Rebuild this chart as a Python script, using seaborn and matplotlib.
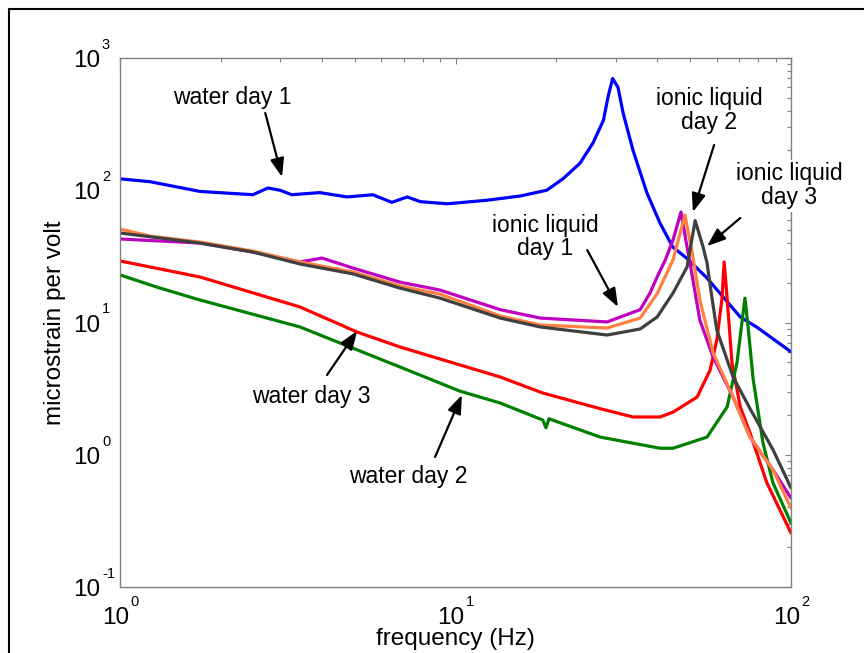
import matplotlib
matplotlib.use("Agg")
import numpy as np
import pandas as pd
import matplotlib.pyplot as plt
import seaborn as sns
from matplotlib.ticker import LogLocator, NullFormatter
from matplotlib.lines import Line2D

# values: frequency (Hz) and microstrain per volt
water1_f = [1.00, 1.23, 1.73, 2.49, 2.76, 3.00, 3.25, 3.94, 4.75, 5.67, 6.46, 7.18,
            7.85, 9.45, 12.4, 15.6, 18.7, 20.9, 23.5, 25.7, 27.6, 28.5, 29.4, 30.5,
            31.6, 33.8, 37.2, 40.7, 44.4, 48.8, 55.9, 62.9, 70.6, 79.2, 100]
water1_v = [122, 116, 98, 92.5, 104, 100, 92.5, 96, 89, 92.5, 81, 89,
            82, 79, 84, 90.5, 100, 122, 160, 228, 338, 510, 700, 600,
            383, 201, 95.5, 56.4, 37.3, 30.7, 22.0, 15.5, 11.0, 9.2, 6.0]

water3_f = [1.00, 1.73, 3.44, 5.09, 6.83, 13.6, 18.2, 27.0, 33.8, 40.7, 44.5, 52.5,
            57.4, 60.1, 62.3, 63.2, 64.5, 66.7, 70.6, 75.5, 84.8, 100]
water3_v = [29.2, 22.1, 13.1, 8.47, 6.53, 3.87, 2.93, 2.23, 1.93, 1.93, 2.10, 2.73,
            4.37, 7.38, 15.3, 28.7, 15.3, 4.94, 2.30, 1.46, 0.611, 0.256]

water2_f = [1.00, 1.29, 1.73, 3.44, 6.83, 10.3, 13.6, 18.2, 18.6, 19.0, 27.0, 40.7,
            44.5, 56.2, 64.5, 69.0, 71.4, 72.9, 74.5, 77.1, 82.5, 88.4, 100]
water2_v = [22.9, 18.5, 14.8, 9.25, 4.61, 3.03, 2.46, 1.83, 1.60, 1.87, 1.36, 1.12,
            1.12, 1.36, 2.30, 4.94, 10.0, 15.3, 9.25, 3.75, 1.23, 0.611, 0.305]

ionic1_f = [1.00, 1.73, 2.49, 3.44, 4.00, 4.95, 6.83, 8.98, 13.6, 17.9, 28.3, 35.5,
            38.0, 39.9, 42.2, 44.5, 47.0, 49.0, 50.0, 53.5, 58.6, 67.2, 75.5, 88.4, 100]
ionic1_v = [42.8, 39.9, 34.1, 28.7, 30.7, 25.8, 20.2, 17.6, 12.5, 10.8, 10.1, 12.5,
            16.7, 22.1, 29.7, 42.1, 68.5, 37.2, 28.2, 10.4, 5.48, 2.73, 1.36, 0.767, 0.471]

ionic2_f = [1.00, 1.23, 1.73, 2.49, 3.44, 4.95, 6.83, 8.98, 13.6, 17.9, 28.3, 35.5,
            39.9, 44.5, 48.3, 50.9, 53.5, 58.6, 67.2, 75.5, 88.4, 100]
ionic2_v = [50.9, 45.0, 40.6, 34.7, 28.7, 24.1, 18.9, 16.4, 11.2, 9.57, 9.08, 10.8,
            16.5, 29.7, 65.0, 32.4, 14.8, 5.88, 2.73, 1.36, 0.767, 0.395]

ionic3_f = [1.00, 1.73, 2.49, 3.44, 4.95, 6.83, 8.98, 13.6, 17.9, 28.3, 35.5, 39.9,
            44.5, 49.0, 51.8, 54.7, 56.2, 58.1, 60.1, 67.2, 75.5, 88.4, 100]
ionic3_v = [47.5, 39.9, 34.1, 27.7, 23.3, 18.2, 15.3, 10.8, 9.25, 8.04, 8.93, 11.0,
            16.7, 26.3, 59.0, 37.2, 28.2, 15.5, 8.77, 3.87, 2.23, 1.09, 0.561]

curve_names = ["water day 1", "water day 3", "water day 2",
               "ionic liquid day 1", "ionic liquid day 2", "ionic liquid day 3"]
curve_colors = ["#0000ff", "#ff0000", "#008000", "#bf00bf", "#ff8040", "#404040"]

# decade tick labels, drawn MATLAB style as "10" plus a raised exponent
x_exponents = [0, 1, 2]
y_exponents = [-1, 0, 1, 2, 3]

series = [(water1_f, water1_v), (water3_f, water3_v), (water2_f, water2_v),
          (ionic1_f, ionic1_v), (ionic2_f, ionic2_v), (ionic3_f, ionic3_v)]
frames = []
for name, (f, v) in zip(curve_names, series):
    frames.append(pd.DataFrame({"freq": f, "strain": v, "curve": name}))
df = pd.concat(frames, ignore_index=True)

sns.set_theme(style="white")
plt.rcParams["font.family"] = ["Liberation Sans", "DejaVu Sans"]
plt.rcParams["text.color"] = "black"
plt.rcParams["axes.labelcolor"] = "black"

fig = plt.figure(figsize=(8.64, 6.53), dpi=100)
ax = fig.add_axes([120 / 864, 1 - 587 / 653, 671 / 864, 529 / 653])

sns.lineplot(data=df, x="freq", y="strain", hue="curve", hue_order=curve_names,
             palette=dict(zip(curve_names, curve_colors)), linewidth=2.3,
             estimator=None, sort=False, legend=False, ax=ax)

ax.set_xscale("log")
ax.set_yscale("log")
ax.set_xlim(1, 100)
ax.set_ylim(0.1, 1000)

ax.xaxis.set_major_locator(LogLocator(base=10))
ax.yaxis.set_major_locator(LogLocator(base=10))
ax.xaxis.set_minor_locator(LogLocator(base=10, subs=np.arange(2, 10)))
ax.yaxis.set_minor_locator(LogLocator(base=10, subs=np.arange(2, 10)))
for axis in (ax.xaxis, ax.yaxis):
    axis.set_major_formatter(NullFormatter())
    axis.set_minor_formatter(NullFormatter())

for s in ax.spines.values():
    s.set_color("#808080")
    s.set_linewidth(1.0)
ax.tick_params(which="both", direction="in", top=True, right=True,
               color="#808080", width=0.8)
ax.tick_params(which="major", length=4.3)
ax.tick_params(which="minor", length=2.9)

base_fs, exp_fs = 17.5, 10.5
for e in x_exponents:
    v = 10.0 ** e
    ax.annotate("10", xy=(v, 0), xycoords=ax.get_xaxis_transform(),
                xytext=(-3.2, -26.8), textcoords="offset points",
                ha="center", va="baseline", fontsize=base_fs, annotation_clip=False)
    ax.annotate(str(e), xy=(v, 0), xycoords=ax.get_xaxis_transform(),
                xytext=(7.2, -14.0), textcoords="offset points",
                ha="left", va="baseline", fontsize=exp_fs, annotation_clip=False)
for e in y_exponents:
    v = 10.0 ** e
    ax.annotate("10", xy=(0, v), xycoords=ax.get_yaxis_transform(),
                xytext=(-14.4, -6.5), textcoords="offset points",
                ha="right", va="baseline", fontsize=base_fs, annotation_clip=False)
    ax.annotate(str(e), xy=(0, v), xycoords=ax.get_yaxis_transform(),
                xytext=(-13.0, 6.5), textcoords="offset points",
                ha="left", va="baseline", fontsize=exp_fs, annotation_clip=False)

ax.set_xlabel("frequency (Hz)", fontsize=17.5)
ax.set_ylabel("microstrain per volt", fontsize=17.5)
ax.xaxis.set_label_coords(0.5, -0.0775)
ax.yaxis.set_label_coords(-0.0805, 0.5)

txt = dict(fontsize=16.5, ha="center", va="center", linespacing=1.05)
ax.text(2.16, 507, "water day 1", **txt)
ax.text(18.5, 44.3, "ionic liquid\nday 1", **txt)
ax.text(57.0, 404, "ionic liquid\nday 2", **txt)
ax.text(98.6, 108, "ionic liquid\nday 3", clip_on=False,
        bbox=dict(fc="white", ec="none", pad=2), zorder=5, **txt)
ax.text(3.71, 2.78, "water day 3", **txt)
ax.text(7.22, 0.69, "water day 2", **txt)

arrow = dict(arrowstyle="-|>,head_length=0.8,head_width=0.3", color="black",
             lw=1.6, mutation_scale=14, shrinkA=0, shrinkB=0)
ax.annotate("", xy=(3.04, 126), xytext=(2.71, 384), arrowprops=arrow)
ax.annotate("", xy=(30.5, 13.1), xytext=(24.7, 35.3), arrowprops=arrow)
ax.annotate("", xy=(51.0, 68.5), xytext=(59.0, 220), arrowprops=arrow)
ax.annotate("", xy=(56.2, 37.8), xytext=(70.6, 61.7), arrowprops=arrow)
ax.annotate("", xy=(5.09, 8.63), xytext=(4.14, 4.01), arrowprops=arrow)
ax.annotate("", xy=(10.45, 2.83), xytext=(8.69, 0.962), arrowprops=arrow)

# outer frame (top and left edges only visible)
fig.add_artist(Line2D([9 / 864, 1.0], [1 - 9 / 653, 1 - 9 / 653], color="black", lw=1.5))
fig.add_artist(Line2D([9 / 864, 9 / 864], [0.0, 1 - 9 / 653], color="black", lw=1.5))

fig.savefig("out.png", dpi=100)
